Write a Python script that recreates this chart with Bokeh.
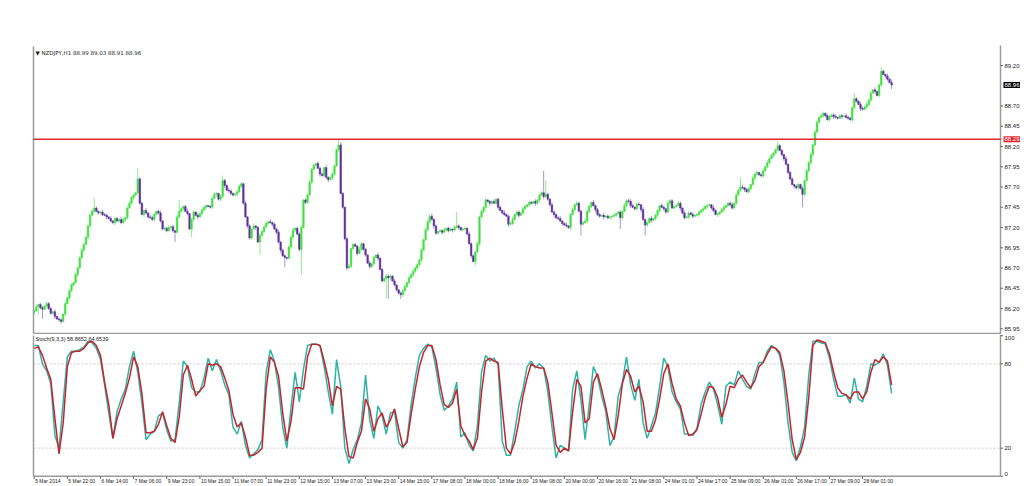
import numpy as np
from bokeh.plotting import figure
from bokeh.layouts import column
from bokeh.models import ColumnDataSource, Range1d, Label
from bokeh.embed import file_html
from bokeh.resources import INLINE
from bokeh.core.properties import value

# ---------------- data (hourly NZDJPY bars) ----------------
symbol_title = "\u25bc NZDJPY,H1  88.99 89.03 88.91 88.96"
stoch_title = "Stoch(9,3,3) 58.8652 64.6539"
first_open = 86.15
closes = [
    86.17, 86.22, 86.25, 86.21, 86.19, 86.23, 86.26, 86.20, 86.14, 86.16, 86.10, 86.07, 86.06, 86.04, 86.13, 86.26,
    86.33, 86.42, 86.49, 86.52, 86.62, 86.70, 86.83, 86.92, 86.99, 87.08, 87.22, 87.35, 87.40, 87.44, 87.40, 87.38,
    87.39, 87.36, 87.35, 87.33, 87.31, 87.28, 87.26, 87.31, 87.28, 87.30, 87.26, 87.30, 87.32, 87.44, 87.50, 87.57,
    87.60, 87.63, 87.80, 87.50, 87.36, 87.41, 87.38, 87.33, 87.32, 87.30, 87.36, 87.40, 87.38, 87.28, 87.18, 87.19,
    87.16, 87.20, 87.21, 87.16, 87.14, 87.33, 87.40, 87.43, 87.46, 87.40, 87.37, 87.18, 87.30, 87.39, 87.35, 87.33,
    87.37, 87.42, 87.45, 87.47, 87.46, 87.45, 87.56, 87.61, 87.62, 87.55, 87.58, 87.78, 87.72, 87.66, 87.65, 87.62,
    87.60, 87.61, 87.64, 87.71, 87.74, 87.50, 87.33, 87.22, 87.07, 87.18, 87.22, 87.20, 87.02, 87.10, 87.15, 87.21,
    87.25, 87.27, 87.26, 87.24, 87.18, 87.14, 87.02, 86.92, 86.85, 86.83, 86.82, 86.96, 87.08, 87.17, 87.19, 87.12,
    86.93, 87.20, 87.54, 87.51, 87.60, 87.76, 87.92, 87.97, 87.99, 87.93, 87.86, 87.84, 87.94, 87.82, 87.79, 87.81,
    87.86, 87.96, 88.16, 88.22, 87.62, 87.45, 87.06, 86.70, 86.72, 86.94, 86.99, 86.97, 86.88, 86.93, 87.00, 86.93,
    86.86, 86.76, 86.72, 86.75, 86.83, 86.86, 86.82, 86.68, 86.54, 86.57, 86.60, 86.58, 86.60, 86.54, 86.49, 86.43,
    86.39, 86.37, 86.42, 86.47, 86.52, 86.58, 86.62, 86.66, 86.70, 86.74, 86.80, 86.92, 87.05, 87.17, 87.27, 87.34,
    87.30, 87.22, 87.13, 87.15, 87.16, 87.14, 87.17, 87.19, 87.16, 87.18, 87.17, 87.20, 87.22, 87.20, 87.17, 87.18,
    87.19, 87.12, 87.00, 86.85, 86.78, 86.90, 87.00, 87.33, 87.40, 87.45, 87.54, 87.52, 87.50, 87.52, 87.50, 87.55,
    87.45, 87.41, 87.38, 87.36, 87.34, 87.24, 87.25, 87.30, 87.36, 87.39, 87.35, 87.38, 87.43, 87.46, 87.48, 87.51,
    87.50, 87.52, 87.50, 87.54, 87.60, 87.63, 87.58, 87.61, 87.55, 87.48, 87.39, 87.36, 87.32, 87.31, 87.28, 87.25,
    87.23, 87.22, 87.20, 87.36, 87.42, 87.48, 87.50, 87.40, 87.24, 87.26, 87.28, 87.40, 87.46, 87.51, 87.47, 87.42,
    87.36, 87.34, 87.35, 87.33, 87.34, 87.32, 87.33, 87.34, 87.35, 87.37, 87.39, 87.32, 87.40, 87.47, 87.53, 87.52,
    87.47, 87.45, 87.43, 87.49, 87.48, 87.42, 87.30, 87.23, 87.26, 87.31, 87.29, 87.31, 87.35, 87.41, 87.47, 87.45,
    87.43, 87.39, 87.50, 87.53, 87.44, 87.46, 87.47, 87.50, 87.44, 87.38, 87.32, 87.33, 87.38, 87.36, 87.34, 87.35,
    87.36, 87.39, 87.41, 87.43, 87.46, 87.47, 87.48, 87.44, 87.41, 87.36, 87.37, 87.39, 87.42, 87.45, 87.47, 87.50,
    87.48, 87.44, 87.50, 87.60, 87.66, 87.70, 87.69, 87.67, 87.64, 87.68, 87.73, 87.81, 87.86, 87.88, 87.85, 87.84,
    87.90, 87.95, 88.00, 88.05, 88.09, 88.12, 88.16, 88.21, 88.15, 88.10, 88.05, 87.98, 87.88, 87.80, 87.73, 87.71,
    87.69, 87.73, 87.68, 87.61, 87.78, 87.90, 88.00, 88.10, 88.22, 88.38, 88.50, 88.56, 88.58, 88.61, 88.58, 88.53,
    88.57, 88.59, 88.57, 88.56, 88.55, 88.58, 88.57, 88.58, 88.56, 88.55, 88.53, 88.68, 88.79, 88.76, 88.72, 88.67,
    88.66, 88.69, 88.72, 88.77, 88.86, 88.90, 88.88, 88.83, 88.96, 89.13, 89.09, 89.07, 89.03, 88.99, 88.96,
]
# wick lengths beyond the body, in pips (one base-36 digit per bar)
up_wick_pips = (
    "2312213221312213" "2131221322123c21" "1322131221321232" "21d2213132212312"
    "231213e212312213" "2132122321362132" "1232213122312321" "2131223122132312"
    "2312231213221312" "2217321231221321" "2132213121322131" "1223121322131232"
    "312122312213h212" "2132213221312231" "2213122312213212" "213122rh21321231"
    "2312213221322131" "2213122131221323" "3212213122312213" "2132212321322132"
    "1223122132212312" "23122c3122132212" "2131221522131221" "2213122312213212"
    "2123122132217213" "213221312521324"
)
dn_wick_pips = (
    "21a2c13221312312" "1322131221321312" "2213122312213212" "3122132212312213"
    "2132c1223121a213" "1223122132213122" "2131221322131g22" "221312231c213122"
    "3w12213221312231" "2213122312213122" "2132213122pq3122" "2531221322131223"
    "1322131221321312" "2213152312213212" "3122132212312213" "2132213122132213"
    "12231221e2132213" "22131223121e3122" "3122132d21312231" "2213122132213122"
    "1322131221321312" "2213122312213212" "3122132212312213" "221g312231221321"
    "2132213122132213" "213221312213215"
)
# Stochastic (9,3,3), read every second bar
stoch_k = [
    93, 93, 80, 75, 66, 29, 20, 53, 85, 89, 89, 90, 92, 96, 95, 91,
    83, 65, 45, 27, 46, 55, 62, 78, 89, 74, 52, 26, 30, 32, 43, 45,
    33, 25, 26, 52, 82, 78, 63, 60, 60, 70, 84, 75, 83, 75, 65, 58,
    35, 30, 39, 22, 13, 16, 19, 26, 74, 90, 82, 63, 35, 20, 49, 74,
    53, 76, 93, 94, 94, 93, 78, 60, 44, 83, 64, 20, 9, 19, 26, 38,
    72, 40, 27, 50, 43, 30, 45, 46, 24, 20, 26, 51, 70, 86, 91, 94,
    92, 77, 58, 47, 50, 55, 67, 28, 31, 22, 18, 36, 74, 86, 82, 84,
    79, 25, 15, 15, 32, 50, 62, 78, 82, 77, 80, 77, 60, 35, 13, 22,
    20, 18, 62, 75, 54, 26, 51, 78, 71, 57, 46, 22, 28, 57, 67, 85,
    65, 54, 69, 38, 27, 36, 45, 64, 84, 78, 60, 53, 48, 30, 30, 29,
    34, 51, 60, 67, 62, 51, 37, 64, 67, 65, 75, 69, 64, 62, 73, 81,
    81, 89, 93, 91, 86, 67, 38, 17, 11, 21, 35, 72, 96, 96, 95, 94,
    84, 69, 57, 57, 58, 52, 70, 55, 53, 64, 80, 79, 81, 87, 79, 59,
]
stoch_d = [
    91, 92, 86, 77, 69, 41, 16, 38, 78, 88, 89, 89, 91, 95, 96, 93,
    86, 67, 51, 27, 41, 50, 59, 70, 85, 78, 59, 31, 31, 32, 37, 46,
    36, 27, 24, 42, 72, 79, 69, 57, 61, 64, 80, 79, 80, 78, 70, 61,
    44, 35, 38, 28, 15, 15, 17, 20, 62, 85, 81, 71, 45, 25, 39, 63,
    63, 62, 85, 94, 94, 93, 82, 69, 50, 64, 62, 34, 14, 13, 24, 32,
    55, 48, 32, 41, 45, 35, 40, 48, 34, 21, 24, 44, 62, 78, 88, 93,
    93, 83, 65, 51, 49, 52, 62, 36, 29, 25, 19, 27, 60, 82, 84, 82,
    81, 48, 20, 16, 24, 39, 57, 70, 80, 78, 77, 77, 67, 45, 22, 17,
    20, 18, 46, 69, 64, 38, 41, 67, 73, 62, 49, 34, 26, 43, 66, 76,
    71, 60, 64, 53, 32, 32, 40, 55, 73, 80, 66, 55, 50, 38, 29, 30,
    33, 44, 56, 64, 63, 56, 42, 51, 64, 63, 69, 72, 67, 63, 68, 78,
    81, 87, 92, 91, 88, 75, 52, 26, 12, 17, 28, 56, 93, 97, 96, 95,
    87, 74, 63, 59, 58, 55, 60, 60, 55, 60, 74, 83, 81, 85, 82, 65,
]
time_labels = ["5 Mar 2014", "5 Mar 22:00", "6 Mar 14:00", "7 Mar 06:00", "9 Mar 23:00",
               "10 Mar 15:00", "11 Mar 07:00", "11 Mar 23:00", "12 Mar 15:00", "13 Mar 07:00",
               "13 Mar 23:00", "14 Mar 15:00", "17 Mar 08:00", "18 Mar 00:00", "18 Mar 16:00",
               "19 Mar 08:00", "20 Mar 00:00", "20 Mar 16:00", "21 Mar 08:00", "24 Mar 01:00",
               "24 Mar 17:00", "25 Mar 09:00", "26 Mar 01:00", "26 Mar 17:00", "27 Mar 09:00",
               "28 Mar 01:00"]
bars_per_label = 16
price_ticks = [85.95, 86.20, 86.45, 86.70, 86.95, 87.20, 87.45, 87.70, 87.95, 88.20, 88.45, 88.70, 89.20]
level_price = 88.29
last_price = 88.96
stoch_levels = [20, 80]
stoch_ticks = [100, 80, 20, 0]

# ---------------- styles ----------------
UP = "#3fe03f"
DOWN = "#5e2f98"
UP_WICK = "#92ea92"
DOWN_WICK = "#a29ad6"
K_COLOR = "#2fb3a4"
D_COLOR = "#c4242c"
AXIS_GRAY = "#9a9a9a"
TXT = "#222222"
FONT = "Liberation Sans"
FS = "6px"

# ---------------- geometry (screen layout of the MT4 window) ----------------
W = 1020
PXB = 2.071                      # pixels per hourly bar
XS = -33.7 / PXB                 # bar 0 sits 33.7 px from the left edge
def xd(px):                      # screen x -> bar coordinate
    return XS + px / PXB
H1, H2 = 334, 152
PPY = 81.0                       # pixels per yen
def pd(py):                      # screen y (top panel) -> price
    return 89.20 - (py - 65) / PPY
SPU = 1.406                      # pixels per stochastic unit
def sd(py):                      # screen y (whole page) -> stochastic value
    return (475.8 - py) / SPU

xr = Range1d(XS, xd(W))
AX = xd(1000)                    # right price-scale line
LX = xd(33)                      # left border line

# ---------------- derived OHLC ----------------
c = np.array(closes)
n = len(c)
o = np.concatenate([[first_open], c[:-1]])
upw = np.array([int(ch, 36) for ch in up_wick_pips[:n]]) / 100.0
dnw = np.array([int(ch, 36) for ch in dn_wick_pips[:n]]) / 100.0
top = np.maximum(o, c)
bot = np.minimum(o, c)
is_up = c >= o
src = ColumnDataSource(dict(
    x=np.arange(n), top=top, bot=bot, hi=top + upw, lo=bot - dnw,
    color=np.where(is_up, UP, DOWN), wick=np.where(is_up, UP_WICK, DOWN_WICK)))

def base_fig(h, yr):
    f = figure(width=W, height=h, x_range=xr, y_range=yr, x_axis_type=None, y_axis_type=None,
               output_backend="svg", toolbar_location=None, min_border=0)
    f.outline_line_color = None
    f.background_fill_color = "white"
    f.border_fill_color = "white"
    f.grid.visible = False
    return f

# ---------------- price panel ----------------
p1 = base_fig(H1, Range1d(pd(H1), pd(0)))
p1.segment(x0="x", y0="hi", x1="x", y1="lo", line_color="wick", line_width=1, source=src)
p1.vbar(x="x", width=0.75, top="top", bottom="bot", fill_color="color", line_color="color",
        line_width=0.5, source=src)
p1.segment(x0=[LX, AX], y0=[pd(333), pd(333)], x1=[AX, AX], y1=[pd(333), pd(45)],
           line_color=AXIS_GRAY, line_width=1.5)
p1.segment(x0=[LX], y0=[pd(46)], x1=[LX], y1=[pd(333)], line_color=AXIS_GRAY, line_width=1.5)
p1.segment(x0=[LX, AX], y0=[level_price, level_price], x1=[AX, AX], y1=[level_price, level_price],
           line_color="#e3262b", line_width=1.6)
p1.segment(x0=[AX] * len(price_ticks), y0=price_ticks, x1=[xd(1002.5)] * len(price_ticks),
           y1=price_ticks, line_color="#666666", line_width=1)
p1.text(x=[AX] * len(price_ticks), y=price_ticks, text=[f"{t:.2f}" for t in price_ticks],
        x_offset=4, text_baseline="middle", text_align="left", text_font=value(FONT),
        text_font_size=value(FS), text_color=TXT)
for val, bg in ((last_price, "black"), (level_price, "#e3262b")):
    p1.add_layout(Label(x=AX, y=val, x_offset=3, text=f"{val:.2f}", text_color="white",
                        text_font=FONT, text_font_size=FS, text_baseline="middle",
                        text_align="left", background_fill_color=bg, padding=1))
p1.add_layout(Label(x=xd(35), y=pd(52.7), text=symbol_title, text_color=TXT,
                    text_font="DejaVu Sans", text_font_size="5.5px", text_baseline="middle"))

# ---------------- stochastic panel ----------------
p2 = base_fig(H2, Range1d(sd(486), sd(334)))
p2.segment(x0=[LX, LX], y0=stoch_levels, x1=[AX, AX], y1=stoch_levels,
           line_color="#c9c9c9", line_width=1, line_dash="2 2")
sx = np.arange(len(stoch_k)) * 2
p2.line(sx, stoch_k, line_color=K_COLOR, line_width=1.5)
p2.line(sx[:len(stoch_d)], stoch_d, line_color=D_COLOR, line_width=1.5)
p2.segment(x0=[LX, LX, AX], y0=[0, 0, 0], x1=[LX, AX, AX], y1=[sd(335), 0, sd(334)],
           line_color=AXIS_GRAY, line_width=1.5)
p2.segment(x0=[AX] * 4, y0=stoch_ticks, x1=[xd(1002.5)] * 4, y1=stoch_ticks,
           line_color="#666666", line_width=1)
p2.text(x=[AX], y=[stoch_ticks[0]], text=[str(stoch_ticks[0])], x_offset=4, text_baseline="top",
        text_font=value(FONT), text_font_size=value(FS), text_color=TXT)
p2.text(x=[AX, AX], y=stoch_ticks[1:3], text=[str(t) for t in stoch_ticks[1:3]], x_offset=4,
        text_baseline="middle", text_font=value(FONT), text_font_size=value(FS), text_color=TXT)
p2.text(x=[AX], y=[stoch_ticks[3]], text=[str(stoch_ticks[3])], x_offset=4, text_baseline="bottom",
        text_font=value(FONT), text_font_size=value(FS), text_color=TXT)
tick_pos = [i * bars_per_label for i in range(len(time_labels))]
p2.segment(x0=tick_pos, y0=[0] * len(tick_pos), x1=tick_pos, y1=[sd(478.5)] * len(tick_pos),
           line_color="#666666", line_width=1)
p2.text(x=tick_pos, y=[0] * len(tick_pos), text=time_labels, x_offset=1, y_offset=2,
        text_baseline="top", text_align="left", text_font=value(FONT),
        text_font_size=value("5px"), text_color=TXT)
p2.add_layout(Label(x=xd(35), y=sd(338.5), text=stoch_title, text_color=TXT,
                    text_font=FONT, text_font_size="5.5px", text_baseline="middle"))

layout = column(p1, p2, spacing=0)
open("out.html", "w").write(file_html(layout, INLINE))
